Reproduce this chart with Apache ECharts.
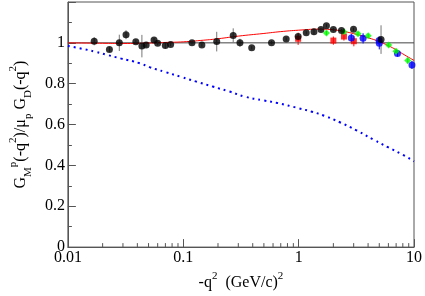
<!DOCTYPE html>
<html>
<head>
<meta charset="utf-8">
<script src="https://cdn.jsdelivr.net/npm/echarts@6/dist/echarts.min.js"></script>
<style>html,body{margin:0;padding:0;background:#fff}#c{width:425px;height:296px}</style>
</head>
<body>
<div id="c"></div>
<script>
// ---- data ----
const blackPts = [ // [q2, ratio, err]
  [0.0169,1.008,0.02],[0.0229,0.968,0.012],[0.0279,1.0,0.04],[0.0319,1.04,0.022],
  [0.0388,1.005,0.01],[0.0438,0.984,0.055],[0.0477,0.989,0.01],[0.0558,1.014,0.01],
  [0.060,0.998,0.01],[0.0699,0.987,0.015],[0.0777,0.992,0.008],[0.119,1.0,0.008],
  [0.145,0.989,0.008],[0.195,1.006,0.048],[0.271,1.036,0.035],[0.310,1.0,0.02],
  [0.392,0.976,0.008],[0.582,1.001,0.008],[0.780,1.019,0.008],[0.99,1.031,0.008],
  [1.164,1.049,0.008],[1.358,1.054,0.015],[1.561,1.065,0.008],[1.741,1.084,0.008],
  [2.0,1.065,0.008],[2.35,1.06,0.008],[2.99,1.066,0.008],[5.18,1.016,0.07]
];
const redPts = [[0.99,1.02,0.03],[2.0,1.011,0.02],[2.47,1.031,0.02],[3.01,1.008,0.025]];
const greenPts = [[1.741,1.048,0.01],[2.47,1.054,0.01],[3.27,1.044,0.01],[4.01,1.035,0.01],
  [6.03,0.989,0.01],[6.98,0.959,0.012],[8.83,0.913,0.015]];
const bluePts = [[2.86,1.024,0.02],[3.62,1.022,0.025],[4.98,1.012,0.02],[5.0,0.998,0.03],
  [7.19,0.948,0.015],[9.6,0.892,0.02]];
const fitCurve = [[0.01,1.0],[0.02,0.998],[0.03,0.997],[0.05,0.999],[0.07,1.002],[0.1,1.005],
  [0.15,1.013],[0.2,1.02],[0.3,1.033],[0.5,1.046],[0.7,1.055],[1.0,1.062],[1.5,1.067],
  [2.0,1.064],[2.5,1.055],[3.0,1.045],[4.0,1.025],[5.0,1.006],[6.0,0.986],[7.0,0.966],
  [8.0,0.946],[10,0.914]];
const dottedCurve = [[0.01,0.985],[0.0133,0.971],[0.0172,0.957],[0.0222,0.94],[0.0286,0.924],
  [0.042,0.90],[0.051,0.881],[0.07,0.857],[0.096,0.833],[0.13,0.81],[0.18,0.786],[0.25,0.762],
  [0.34,0.737],[0.5,0.718],[0.65,0.706],[1.0,0.68],[1.3,0.663],[1.67,0.643],[2.3,0.61],
  [3.17,0.572],[4.5,0.525],[6.0,0.488],[8.0,0.452],[10,0.42]];
const unityLine = [[0.01,1],[10,1]];
const xMinorTicks = [0.02,0.03,0.04,0.05,0.06,0.07,0.08,0.09,0.2,0.3,0.4,0.5,0.6,0.7,0.8,0.9,2,3,4,5,6,7,8,9];

const FONT = 'Liberation Serif';
const chart = echarts.init(document.getElementById('c'));

function errSeries(pts, color) {
  return {
    type: 'custom', silent: true, z: 3,
    data: pts.map(p => [p[0], p[1] - p[2], p[1] + p[2]]),
    encode: {x: 0, y: [1, 2]},
    renderItem: function (params, api) {
      const a = api.coord([api.value(0), api.value(1)]);
      const b = api.coord([api.value(0), api.value(2)]);
      return {type: 'line', shape: {x1: a[0], y1: a[1], x2: b[0], y2: b[1]},
        style: {stroke: color, lineWidth: 1}};
    }
  };
}
function ptSeries(pts, color, symbol, size) {
  return {type: 'scatter', data: pts.map(p => [p[0], p[1]]), symbol: symbol, symbolSize: size,
    itemStyle: {color: color}, z: 4, silent: true};
}

const option = {
  animation: false,
  grid: {left: 55, right: 9, top: 2, bottom: 43, show: true, borderColor: '#555', borderWidth: 1},
  xAxis: {
    type: 'log', logBase: 10, min: 0.01, max: 10,
    axisLine: {lineStyle: {color: '#555'}},
    axisTick: {inside: true, length: 8, lineStyle: {color: '#555'}},
    splitLine: {show: false},
    axisLabel: {color: '#000', fontFamily: FONT, fontSize: 16, margin: 3,
      formatter: v => String(+(+v).toPrecision(3))},
    name: '{b|-q}{t|2}{b|  (GeV/c)}{t|2}', nameLocation: 'middle', nameGap: 21,
    nameTextStyle: {rich: {
      b: {fontFamily: FONT, fontSize: 16, color: '#000', lineHeight: 24, verticalAlign: 'middle'},
      t: {fontFamily: FONT, fontSize: 11, color: '#000', lineHeight: 12, verticalAlign: 'top'}
    }}
  },
  yAxis: {
    type: 'value', min: 0, max: 1.2, interval: 0.2,
    axisLine: {show: true, lineStyle: {color: '#555'}},
    axisTick: {show: true, inside: true, length: 8, lineStyle: {color: '#555'}},
    minorTick: {show: true, splitNumber: 2, length: 4, lineStyle: {color: '#555'}},
    splitLine: {show: false},
    axisLabel: {color: '#000', fontFamily: FONT, fontSize: 16, margin: 3,
      formatter: v => (v > 1.1 ? '' : String(+v.toFixed(1)))},
    name: '{b|G}{s|M}{t|p}{b|(-q}{t|2}{b|)/μ}{s|p}{b| G}{s|D}{b|(-q}{t|2}{b|)}',
    nameLocation: 'middle', nameGap: 24, nameRotate: 90,
    nameTextStyle: {rich: {
      b: {fontFamily: FONT, fontSize: 16, color: '#000', lineHeight: 26, verticalAlign: 'middle'},
      t: {fontFamily: FONT, fontSize: 11, color: '#000', lineHeight: 12, verticalAlign: 'top'},
      s: {fontFamily: FONT, fontSize: 11, color: '#000', lineHeight: 12, verticalAlign: 'bottom'}
    }}
  },
  series: [
    {type: 'custom', silent: true, z: 1, data: xMinorTicks.map(v => [v, 0]), encode: {x: 0, y: 1},
      renderItem: function (params, api) {
        const p = api.coord([api.value(0), 0]);
        return {type: 'line', shape: {x1: p[0], y1: p[1], x2: p[0], y2: p[1] - 4},
          style: {stroke: '#555', lineWidth: 1}};
      }},
    {type: 'line', data: unityLine, symbol: 'none', lineStyle: {color: '#444', width: 1}, z: 1, silent: true},
    {type: 'line', data: dottedCurve, symbol: 'none', smooth: true,
      lineStyle: {color: '#0000ff', width: 2, type: [2, 4]}, z: 2, silent: true},
    {type: 'line', data: fitCurve, symbol: 'none', smooth: true,
      lineStyle: {color: '#ff0000', width: 1}, z: 2, silent: true},
    errSeries(redPts, '#ff0000'),
    errSeries(bluePts, '#0000ff'),
    errSeries(greenPts, '#00cc00'),
    errSeries(blackPts, '#777'),
    ptSeries(redPts, '#ff0000', 'rect', 6),
    ptSeries(bluePts, '#0000ff', 'circle', 7),
    ptSeries(greenPts, '#00ff00', 'diamond', 7),
    ptSeries(blackPts, '#000000', 'circle', 7)
  ]
};
chart.setOption(option);
</script>
</body>
</html>
